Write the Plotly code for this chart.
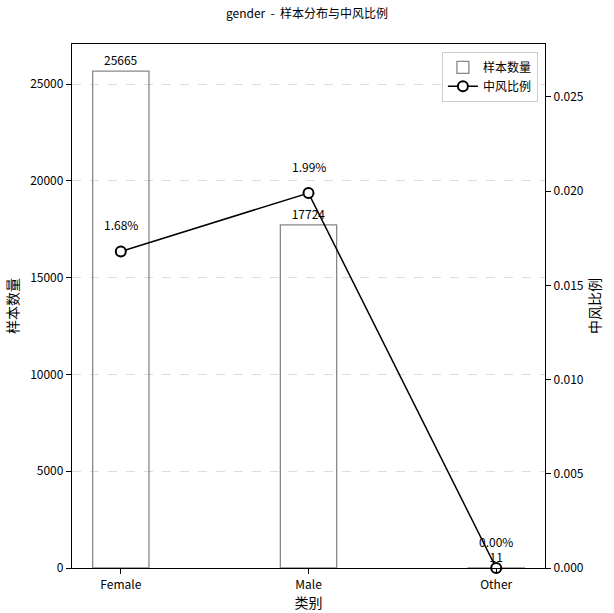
import plotly.graph_objects as go

categories = ["Female", "Male", "Other"]
counts = [25665, 17724, 11]
rates = [0.0168, 0.0199, 0.0]
rate_labels = ["1.68%", "1.99%", "0.00%"]

FONT = "Noto Sans CJK SC, DejaVu Sans, sans-serif"

fig = go.Figure()
fig.add_trace(go.Bar(
    x=categories, y=counts, name="样本数量", width=0.3,
    marker=dict(color="rgba(255,255,255,0)", line=dict(color="#888888", width=1.3)),
    text=[str(c) for c in counts], textposition="outside",
    textfont=dict(size=12, color="black", family=FONT), cliponaxis=False,
    yaxis="y",
))
fig.add_trace(go.Scatter(
    x=categories, y=rates, name="中风比例", mode="lines+markers",
    line=dict(color="black", width=1.5),
    marker=dict(symbol="circle", size=10, color="white", line=dict(color="black", width=2)),
    yaxis="y2", cliponaxis=False,
))
for c, r, lab in zip(categories, rates, rate_labels):
    fig.add_annotation(x=c, y=r, yref="y2", text=lab, showarrow=False,
                       yshift=27, font=dict(size=12, color="black", family=FONT))

fig.update_layout(
    width=614, height=613,
    margin=dict(l=72, r=69, t=44, b=45, autoexpand=False),
    paper_bgcolor="white", plot_bgcolor="white",
    font=dict(family=FONT, color="black", size=12),
    title=dict(text="gender  -  样本分布与中风比例", x=0.5, xanchor="center", y=0.985, yanchor="top",
               font=dict(size=12)),
    bargap=0.7,
    xaxis=dict(range=[-0.26, 2.26], showline=True, linecolor="black", linewidth=1.3, mirror=True,
               ticks="outside", ticklen=5, tickcolor="black", title=dict(text="类别", standoff=0),
               showgrid=False, automargin=False),
    yaxis=dict(range=[0, 27066], tickvals=[0, 5000, 10000, 15000, 20000, 25000], tickformat="d",
               showline=True, linecolor="black", linewidth=1.3, ticks="outside", ticklen=5,
               tickcolor="black", title=dict(text="样本数量", standoff=8), automargin=False,
               showgrid=True, gridcolor="#dddddd", griddash="dash", gridwidth=0.8, zeroline=False),
    yaxis2=dict(range=[0, 0.02781], overlaying="y", side="right",
                tickvals=[0, 0.005, 0.01, 0.015, 0.02, 0.025], tickformat=".3f",
                showline=True, linecolor="black", linewidth=1.3, ticks="outside", ticklen=5,
                tickcolor="black", title=dict(text="中风比例", standoff=6), automargin=False,
                showgrid=False, zeroline=False),
    legend=dict(x=0.985, y=0.985, xanchor="right", yanchor="top", bgcolor="white",
                bordercolor="#cccccc", borderwidth=1, font=dict(size=12)),
)
fig.write_html("out.html", config={"displayModeBar": False},
               post_script="document.body.style.margin='0';document.body.style.overflow='hidden';")
